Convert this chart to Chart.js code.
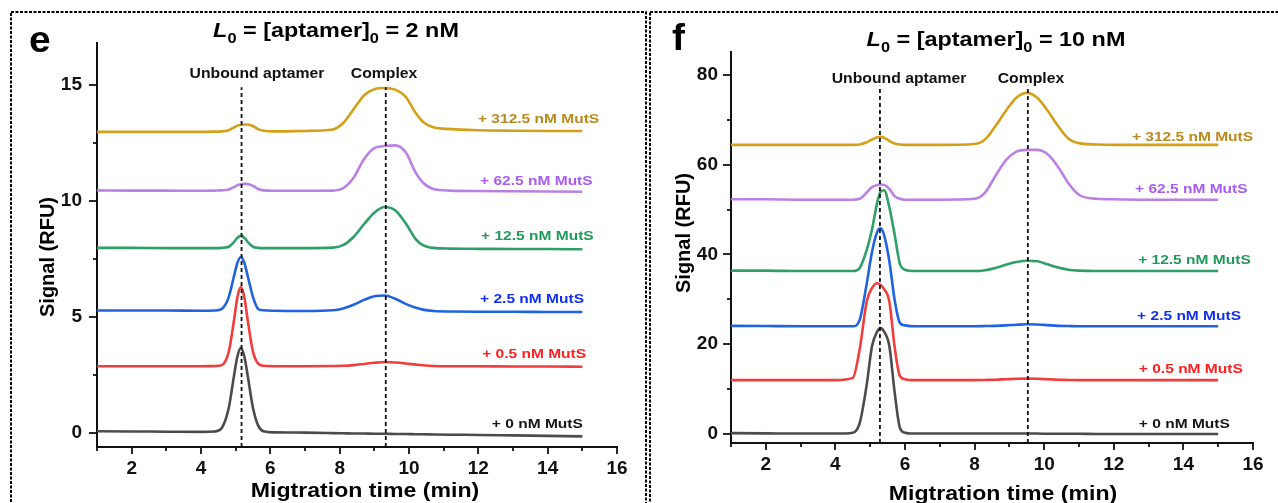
<!DOCTYPE html>
<html>
<head>
<meta charset="utf-8">
<script src="https://cdn.jsdelivr.net/npm/chart.js@4.4.1/dist/chart.umd.min.js"></script>
<style>
  body { margin: 0; background: #fff; width: 1278px; height: 503px; overflow: hidden; position: relative; }
  .panel { position: absolute; top: 0; height: 503px; }
</style>
</head>
<body>
<div class="panel" style="left:0;width:648px"><canvas id="chartE"></canvas></div>
<div class="panel" style="left:648px;width:630px"><canvas id="chartF"></canvas></div>
<script>
// ---- data ----
const seriesNames = ["+ 0 nM MutS", "+ 0.5 nM MutS", "+ 2.5 nM MutS", "+ 12.5 nM MutS", "+ 62.5 nM MutS", "+ 312.5 nM MutS"];
const peakNames = ["Unbound aptamer", "Complex"];

// panel e: L0 = 2 nM
const timeE = [1, 2, 3, 4, 4.4, 4.6, 4.8, 4.95, 5.05, 5.15, 5.25, 5.35, 5.5, 5.65, 5.8, 6.1, 7, 7.8, 8.1, 8.4, 8.7, 9.0, 9.3, 9.6, 9.9, 10.2, 10.4, 10.7, 11.2, 12, 13, 14, 15];
const e0nM = [0.08, 0.07, 0.06, 0.05, 0.07, 0.22, 1.08, 2.45, 3.3, 3.66, 3.3, 2.45, 1.08, 0.32, 0.08, 0.03, 0.02, 0.0, -0.01, -0.02, -0.02, -0.03, -0.03, -0.04, -0.04, -0.05, -0.05, -0.06, -0.07, -0.08, -0.1, -0.12, -0.14];
const e05nM = [2.88, 2.88, 2.88, 2.88, 2.89, 2.93, 3.5, 4.84, 5.85, 6.29, 5.85, 4.84, 3.5, 2.99, 2.9, 2.88, 2.88, 2.89, 2.9, 2.93, 2.98, 3.03, 3.06, 3.04, 3.0, 2.95, 2.92, 2.89, 2.88, 2.88, 2.87, 2.87, 2.86];
const e25nM = [5.28, 5.28, 5.28, 5.27, 5.28, 5.35, 5.86, 6.75, 7.34, 7.59, 7.34, 6.75, 5.86, 5.35, 5.29, 5.27, 5.26, 5.29, 5.37, 5.53, 5.74, 5.9, 5.93, 5.79, 5.57, 5.4, 5.32, 5.26, 5.24, 5.23, 5.23, 5.22, 5.22];
const e125nM = [7.98, 7.98, 7.97, 7.97, 7.97, 7.98, 8.03, 8.23, 8.42, 8.5, 8.42, 8.23, 8.03, 7.98, 7.97, 7.97, 7.97, 7.99, 8.1, 8.45, 9.0, 9.5, 9.74, 9.6, 9.05, 8.35, 8.1, 7.98, 7.95, 7.94, 7.93, 7.93, 7.92];
const e625nM = [10.46, 10.45, 10.45, 10.44, 10.45, 10.46, 10.5, 10.6, 10.68, 10.72, 10.74, 10.73, 10.65, 10.52, 10.46, 10.44, 10.44, 10.45, 10.55, 11.0, 11.8, 12.28, 12.37, 12.4, 12.11, 11.2, 10.8, 10.52, 10.45, 10.43, 10.42, 10.41, 10.4];
const e3125nM = [12.98, 12.98, 12.98, 12.98, 12.99, 13.0, 13.05, 13.17, 13.25, 13.28, 13.3, 13.3, 13.22, 13.1, 13.03, 13.0, 13.02, 13.08, 13.36, 13.95, 14.55, 14.82, 14.87, 14.8, 14.5, 13.78, 13.42, 13.18, 13.1, 13.05, 13.03, 13.02, 13.02];
const peakTimesE = [5.17, 9.33];

// panel f: L0 = 10 nM
const timeF = [1, 2, 3, 4, 4.5, 4.7, 4.9, 5.05, 5.2, 5.3, 5.4, 5.55, 5.7, 5.85, 6.0, 6.3, 7, 8, 8.3, 8.6, 8.9, 9.2, 9.5, 9.8, 10.1, 10.4, 10.7, 11, 11.5, 12, 13, 14, 15];
const f0nM = [0.2, 0.15, 0.1, 0.1, 0.3, 2.5, 11.0, 19.5, 22.8, 23.6, 22.8, 19.6, 9.5, 1.5, 0.3, 0.1, 0.1, 0.1, 0.1, 0.1, 0.1, 0.1, 0.1, 0.1, 0.05, 0.05, 0.05, 0.05, 0.0, 0.0, 0.0, 0.0, 0.0];
const f05nM = [12.0, 12.0, 12.0, 12.0, 12.5, 19.0, 29.5, 32.5, 33.6, 33.2, 32.3, 29.5, 19.5, 13.0, 12.2, 12.0, 12.0, 12.0, 12.05, 12.1, 12.2, 12.3, 12.35, 12.3, 12.2, 12.1, 12.05, 12.0, 12.0, 12.0, 12.0, 12.0, 12.0];
const f25nM = [24.1, 24.05, 24.0, 24.0, 24.0, 25.5, 33.5, 40.5, 45.0, 45.8, 44.3, 38.5, 30.0, 24.8, 24.2, 24.0, 24.0, 24.0, 24.05, 24.1, 24.2, 24.35, 24.45, 24.4, 24.25, 24.1, 24.05, 24.0, 24.0, 24.0, 24.0, 24.0, 24.0];
const f125nM = [36.4, 36.4, 36.3, 36.3, 36.3, 37.0, 41.0, 45.5, 51.5, 54.0, 54.3, 50.5, 44.5, 38.0, 36.6, 36.3, 36.3, 36.3, 36.5, 37.0, 37.7, 38.3, 38.6, 38.5, 37.8, 37.1, 36.6, 36.4, 36.3, 36.3, 36.3, 36.3, 36.3];
const f625nM = [52.3, 52.3, 52.2, 52.2, 52.2, 52.4, 53.8, 55.0, 55.5, 55.6, 55.5, 54.6, 53.0, 52.4, 52.2, 52.2, 52.2, 52.4, 53.8, 57.5, 61.0, 62.9, 63.3, 63.3, 62.3, 59.5, 55.8, 53.3, 52.4, 52.3, 52.2, 52.2, 52.2];
const f3125nM = [64.4, 64.4, 64.4, 64.4, 64.4, 64.5, 65.0, 65.6, 66.1, 66.2, 66.0, 65.3, 64.7, 64.5, 64.4, 64.4, 64.4, 64.6, 65.6, 68.6, 72.0, 74.9, 76.0, 74.9, 72.0, 68.6, 65.8, 64.8, 64.5, 64.4, 64.4, 64.4, 64.4];
const peakTimesF = [5.28, 9.53];

// axis ticks
const xMajorTicks = [2, 4, 6, 8, 10, 12, 14, 16];
const xMinorTicks = [1, 3, 5, 7, 9, 11, 13, 15];
const yMajorTicksE = [0, 5, 10, 15];
const yMinorTicksE = [2.5, 7.5, 12.5];
const yMajorTicksF = [0, 20, 40, 60, 80];
const yMinorTicksF = [10, 30, 50, 70];

const lineColors = ["#4b4b4b", "#f23d3d", "#1f63e0", "#2f9f68", "#bb80e4", "#d4a01a"];
const labelColors = ["#151515", "#ff2020", "#1030ee", "#209a5a", "#a85cf0", "#b8891c"];
const FONT = '"Liberation Sans", Arial, sans-serif';

function drawText(ctx, text, x, y, size, color, align, sx) {
  ctx.save();
  ctx.font = "bold " + size + "px " + FONT;
  ctx.fillStyle = color;
  ctx.textAlign = align;
  ctx.textBaseline = "alphabetic";
  ctx.translate(x, y);
  ctx.scale(sx, 1);
  ctx.fillText(text, 0, 0);
  ctx.restore();
}

const panelDecor = {
  id: "panelDecor",
  afterDraw(chart, args, o) {
    const { ctx, chartArea: a, scales: { x, y } } = chart;
    ctx.save();

    // dashed frame round the panel
    ctx.setLineDash([3, 1.5]);
    ctx.lineWidth = 2;
    ctx.strokeStyle = "#000";
    ctx.strokeRect(o.frame[0], o.frame[1], o.frame[2], 600);
    ctx.setLineDash([]);

    // tick marks, pointing outward
    ctx.strokeStyle = "#111";
    ctx.lineWidth = 1.8;
    const tick = (x1, y1, x2, y2) => { ctx.beginPath(); ctx.moveTo(x1, y1); ctx.lineTo(x2, y2); ctx.stroke(); };
    xMajorTicks.forEach(v => { const p = Math.round(x.getPixelForValue(v)); tick(p, a.bottom, p, a.bottom + 7); });
    xMinorTicks.forEach(v => { const p = Math.round(x.getPixelForValue(v)); tick(p, a.bottom, p, a.bottom + 4); });
    o.yMajor.forEach(v => { const p = Math.round(y.getPixelForValue(v)); tick(a.left, p, a.left - 8, p); });
    o.yMinor.forEach(v => { const p = Math.round(y.getPixelForValue(v)); tick(a.left, p, a.left - 4, p); });

    // panel letter
    drawText(ctx, o.letter, o.letterPos[0], o.letterPos[1], 37, "#000", "left", 1.05);

    // title: L0 = [aptamer]0 = c
    const parts = [
      { t: "L", f: "italic bold 20px ", dy: 0 },
      { t: "0", f: "bold 14px ", dy: 6 },
      { t: " = [aptamer]", f: "bold 20px ", dy: 0 },
      { t: "0", f: "bold 14px ", dy: 6 },
      { t: " = " + o.conc, f: "bold 20px ", dy: 0 }
    ];
    const sx = 1.17;
    let total = 0;
    parts.forEach(p => { ctx.font = p.f + FONT; p.w = ctx.measureText(p.t).width * sx; total += p.w; });
    let cx = o.titlePos[0] - total / 2;
    ctx.fillStyle = "#000";
    ctx.textBaseline = "alphabetic";
    ctx.textAlign = "left";
    parts.forEach(p => {
      ctx.save();
      ctx.font = p.f + FONT;
      ctx.translate(cx, o.titlePos[1] + p.dy);
      ctx.scale(sx, 1);
      ctx.fillText(p.t, 0, 0);
      ctx.restore();
      cx += p.w;
    });

    // axis titles
    drawText(ctx, "Migtration time (min)", o.xTitle[0], o.xTitle[1], 21, "#000", "center", 1.1);
    ctx.save();
    ctx.translate(o.yTitle[0], o.yTitle[1]);
    ctx.rotate(-Math.PI / 2);
    drawText(ctx, "Signal (RFU)", 0, 0, 20, "#000", "center", 1);
    ctx.restore();

    // peak captions
    peakNames.forEach((s, i) => {
      drawText(ctx, s, x.getPixelForValue(o.peakText[i]), y.getPixelForValue(o.peakTextY), 15, "#111", "center", 1.05);
    });

    // series labels
    seriesNames.forEach((s, i) => {
      const px = x.getPixelForValue(o.labels[i][0]);
      const py = y.getPixelForValue(o.labels[i][1]) + 4.8;
      drawText(ctx, s, px, py, 13.5, labelColors[i], "left", 1.15);
    });
    ctx.restore();
  }
};

function makePanel(id, cfg) {
  const datasets = [];
  cfg.peaks.forEach(t => {
    datasets.push({
      data: [{ x: t, y: cfg.yMin }, { x: t, y: cfg.peakTop }],
      borderColor: "#111", borderWidth: 1.8, borderDash: [4, 3],
      pointRadius: 0, order: 0
    });
  });
  cfg.series.forEach((vals, i) => {
    datasets.push({
      data: vals.map((v, k) => ({ x: cfg.time[k], y: v })),
      borderColor: lineColors[i], borderWidth: 2.6,
      pointRadius: 0, cubicInterpolationMode: "monotone", order: 1
    });
  });
  const W = cfg.width, H = 503;
  const tickFont = { family: FONT, size: 19, weight: "bold" };
  return new Chart(document.getElementById(id), {
    type: "line",
    data: { datasets },
    options: {
      responsive: true,
      maintainAspectRatio: false,
      animation: false,
      events: [],
      layout: { padding: { left: 0, top: cfg.area.top, right: W - cfg.area.right, bottom: 0 } },
      plugins: {
        legend: { display: false },
        tooltip: { enabled: false },
        panelDecor: cfg.decor
      },
      scales: {
        x: {
          type: "linear", min: 1, max: 16,
          afterFit: s => { s.height = H - cfg.area.bottom; },
          afterBuildTicks: s => { s.ticks = xMajorTicks.map(v => ({ value: v })); },
          grid: { display: false, drawTicks: false },
          border: { display: true, color: "#111", width: 2 },
          ticks: { font: tickFont, color: "#111", padding: 10, maxRotation: 0, autoSkip: false }
        },
        y: {
          type: "linear", min: cfg.yMin, max: cfg.yMax,
          afterFit: s => { s.width = cfg.area.left; },
          afterBuildTicks: s => { s.ticks = cfg.yMajor.map(v => ({ value: v })); },
          grid: { display: false, drawTicks: false },
          border: { display: true, color: "#111", width: 2 },
          ticks: { font: tickFont, color: "#111", padding: cfg.yPad, autoSkip: false }
        }
      }
    },
    plugins: [panelDecor]
  });
}

makePanel("chartE", {
  width: 648,
  area: { left: 97, right: 617, top: 43, bottom: 447 },
  yMin: -0.6, yMax: 16.81, yPad: 15,
  yMajor: yMajorTicksE,
  time: timeE,
  series: [e0nM, e05nM, e25nM, e125nM, e625nM, e3125nM],
  peaks: peakTimesE, peakTop: 14.9,
  decor: {
    frame: [11, 12, 635],
    letter: "e", letterPos: [29, 52],
    conc: "2 nM", titlePos: [336, 37],
    xTitle: [365, 497], yTitle: [54, 257],
    yMajor: yMajorTicksE, yMinor: yMinorTicksE,
    peakText: [5.615, 9.28], peakTextY: 15.3,
    labels: [[12.39, 0.43], [12.11, 3.45], [12.05, 5.82], [12.08, 8.53], [12.05, 10.91], [11.99, 13.58]]
  }
});

makePanel("chartF", {
  width: 630,
  area: { left: 83, right: 605, top: 52, bottom: 443 },
  yMin: -2, yMax: 85.1, yPad: 13,
  yMajor: yMajorTicksF,
  time: timeF,
  series: [f0nM, f05nM, f25nM, f125nM, f625nM, f3125nM],
  peaks: peakTimesF, peakTop: 77.6,
  decor: {
    frame: [2, 12, 700],
    letter: "f", letterPos: [24, 50],
    conc: "10 nM", titlePos: [348, 46],
    xTitle: [355, 500], yTitle: [42, 233],
    yMajor: yMajorTicksF, yMinor: yMinorTicksF,
    peakText: [5.83, 9.62], peakTextY: 78.2,
    labels: [[12.72, 2.4], [12.72, 14.7], [12.67, 26.4], [12.7, 38.9], [12.61, 54.7], [12.52, 66.4]]
  }
});
</script>
</body>
</html>
